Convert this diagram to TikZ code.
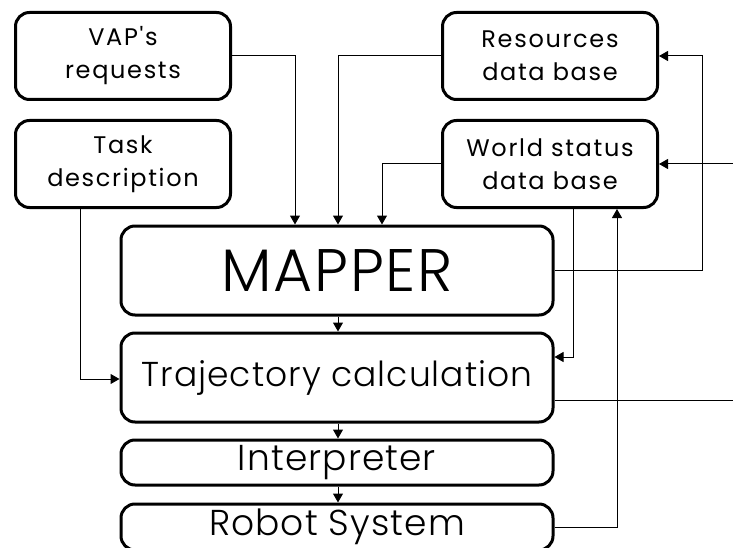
\documentclass[tikz,border=0pt]{standalone}
\usepackage{fontspec}
\setmainfont{Poppins}[UprightFont=* Light]
\newfontfamily\smallf{Poppins}[LetterSpace=7]
\newfontfamily\bigf{Poppins}[UprightFont=* Light, LetterSpace=3]
\usetikzlibrary{arrows.meta}
\begin{document}
\begin{tikzpicture}[x=1pt,y=-1pt,
  box/.style={draw, line width=3pt, rounded corners=14pt, inner sep=0pt, align=center},
  smallbox/.style={box, minimum width=215pt, minimum height=87pt,
    font=\smallf\fontsize{24}{33}\selectfont},
  bigbox/.style={box, minimum width=432pt, font=\bigf\fontsize{36}{40}\selectfont},
  conn/.style={line width=1pt},
  arr/.style={conn, -{Triangle[width=10pt,length=9pt]}}]
\useasboundingbox (0,0) rectangle (733,548);
\fill[white] (0,0) rectangle (733,548);

\node[smallbox] (vap) at (123,56) {VAP's\\requests};
\node[smallbox] (task) at (123,164) {Task\\description};
\node[smallbox] (res) at (550,56) {Resources\\data base};
\node[smallbox] (world) at (550,164) {World status\\data base};

\node[bigbox, minimum height=89pt, font=\bigf\fontsize{60}{64}\selectfont] (mapper) at (337,270.5) {MAPPER};
\node[bigbox, minimum height=89pt, font=\bigf\fontsize{34.5}{40}\selectfont] (traj) at (337,377.5) {Trajectory calculation};
\node[bigbox, minimum height=45pt] (interp) at (337,462.5) {Interpreter};
\node[bigbox, minimum height=46pt] (robot) at (337,527) {Robot System};

\coordinate (inW) at (733,164);
\coordinate (outT) at (733,400);

\draw[arr] (vap.east) -| (mapper.north -| 295,0);
\draw[arr] (res.west) -| (mapper.north -| 338,0);
\draw[arr] (world.west) -| (mapper.north -| 382,0);
\draw[arr] (mapper.east) -| (702,0 |- res.east) -- (res.east);
\draw[arr] (inW) -- (world.east);
\draw[conn] (traj.east |- outT) -- (outT);
\draw[arr] (world.south -| 573,0) |- (traj.east |- 0,357);
\draw[arr] (robot.east) -| (world.south -| 617,0);
\draw[arr] (task.south -| 80,0) |- (traj.west |- 0,379);
\draw[arr] (mapper.south -| 338,0) -- (traj.north -| 338,0);
\draw[arr] (traj.south -| 338,0) -- (interp.north -| 338,0);
\draw[arr] (interp.south -| 338,0) -- (robot.north -| 338,0);
\end{tikzpicture}
\end{document}
